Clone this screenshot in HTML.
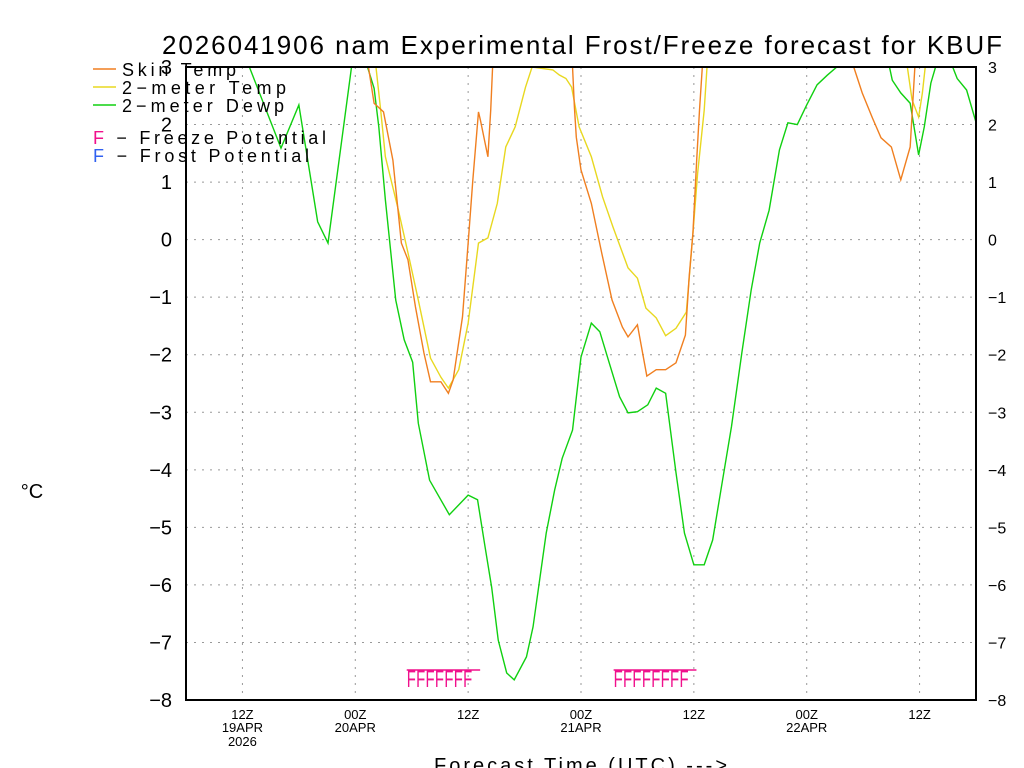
<!DOCTYPE html>
<html><head><meta charset="utf-8"><style>
body{margin:0;background:#fff;}
svg{display:block;font-family:"Liberation Sans",sans-serif;}
</style></head><body>
<svg id="chart" width="1024" height="768">
<defs><clipPath id="plotclip"><rect x="186" y="67" width="790" height="633"/></clipPath></defs>
<text x="162" y="54" font-size="26" textLength="840" lengthAdjust="spacing">2026041906 nam Experimental Frost/Freeze forecast for KBUF</text>
<g id="grid"></g>
<g id="axes"></g>
<g id="series" clip-path="url(#plotclip)"></g>
<g id="freeze"></g>
<rect x="186" y="67" width="790" height="633" fill="none" stroke="#000" stroke-width="2"/>
<g>
<line x1="93" y1="69" x2="116" y2="69" stroke="#f07f20" stroke-width="1.5"/>
<text x="122" y="76" font-size="18" textLength="114" lengthAdjust="spacing">Skin Temp</text>
<line x1="93" y1="87" x2="116" y2="87" stroke="#e8d820" stroke-width="1.5"/>
<text x="122" y="94" font-size="18" textLength="164" lengthAdjust="spacing">2−meter Temp</text>
<line x1="93" y1="105" x2="116" y2="105" stroke="#10d010" stroke-width="1.5"/>
<text x="122" y="112" font-size="18" textLength="162" lengthAdjust="spacing">2−meter Dewp</text>
<text x="93" y="144" font-size="18" textLength="233" lengthAdjust="spacing"><tspan fill="#f0108c">F</tspan> − Freeze Potential</text>
<text x="93" y="162" font-size="18" textLength="216" lengthAdjust="spacing"><tspan fill="#3060f0">F</tspan> − Frost Potential</text>
</g>
<text x="32" y="498" font-size="20" text-anchor="middle">°C</text>
<text x="434" y="772" font-size="20" textLength="293" lengthAdjust="spacing">Forecast Time (UTC) ---&gt;</text>
</svg>
<script>
const yTicks=[-8,-7,-6,-5,-4,-3,-2,-1,0,1,2,3];
const xTickHours=[6,18,30,42,54,66,78];
const xTickLabels=["12Z","00Z","12Z","00Z","12Z","00Z","12Z"];
const xTickDates=["19APR","20APR","","21APR","","22APR",""];
const xTickYears=["2026","","","","","",""];
const dewHours=[0,6.5,10.1,12,14,15.1,17.6,18.5,19.3,20,20.5,21.2,22.3,23.2,24.1,24.7,25.9,28,30,31,31.8,32.5,33.2,34.1,34.9,36.2,36.9,38.3,39.2,40,41.1,42,43.1,44,45,46.1,47,48,49.1,50,51,52.1,53,54,55.1,56,57,58,59.1,60.1,61,62,63.1,64,65,66,67.1,68.2,69.2,72,74.8,75.1,76,77,77.9,78.5,79.2,79.7,81.4,82,83,84];
const dewVals=[3.5,3.1,1.59,2.34,0.31,-0.06,3.0,3.3,3.0,2.63,1.96,0.69,-1.05,-1.74,-2.13,-3.19,-4.18,-4.78,-4.44,-4.52,-5.34,-6.04,-6.96,-7.53,-7.65,-7.25,-6.73,-5.1,-4.35,-3.8,-3.31,-2.04,-1.45,-1.6,-2.14,-2.73,-3.01,-2.99,-2.87,-2.58,-2.67,-4.05,-5.1,-5.65,-5.65,-5.22,-4.23,-3.25,-1.97,-0.87,-0.06,0.51,1.56,2.03,2.0,2.34,2.69,2.86,3.0,3.3,3.0,2.77,2.55,2.37,1.47,1.96,2.72,3.0,3.05,2.8,2.6,2.04];
const skinHours=[0,19.4,20,21,22,22.9,23.6,24.4,25.3,26,27.1,27.9,28.4,29.4,30,30.5,31.1,31.3,32.1,32.4,32.6,37,41.1,41.3,41.5,42,43.1,44.2,45.3,46.4,47,48,49,50,51,52.1,53.1,53.5,53.9,54.3,54.6,54.9,63,71,71.9,73,73.9,75,76,77,77.5,84];
const skinVals=[5,3.0,2.37,2.22,1.38,-0.06,-0.35,-1.17,-1.97,-2.47,-2.47,-2.67,-2.44,-1.34,-0.06,1.04,2.22,2.08,1.44,2.25,3.0,6,3.0,2.3,1.78,1.21,0.63,-0.23,-1.05,-1.52,-1.69,-1.48,-2.37,-2.26,-2.26,-2.14,-1.66,-0.65,0.11,1.38,2.25,3.0,8,3.0,2.55,2.11,1.77,1.61,1.04,1.61,3.0,6];
const tempHours=[0,20.2,20.7,21.2,22.5,23.7,24.7,26,27.1,27.9,29,30,31.1,32.1,33.1,34,35,36.1,36.8,39,39.7,40.4,41,41.8,43.1,44.3,45.4,46.3,47,48,48.9,50,51,52.1,53.2,53.6,53.9,54.4,55.1,55.4,66,76.7,77.2,77.9,78.3,78.6,84];
const tempVals=[5,3.0,2.25,1.44,0.57,-0.3,-1.05,-2.06,-2.39,-2.58,-2.26,-1.45,-0.06,0.03,0.63,1.61,1.96,2.65,3.0,2.95,2.86,2.8,2.65,1.96,1.44,0.74,0.22,-0.18,-0.49,-0.67,-1.19,-1.36,-1.67,-1.54,-1.26,-0.48,0.11,1.15,2.25,3.0,7,3.0,2.43,2.13,2.55,3.0,6];
const freezeHours=[24,25,26,27,28,29,30,46,47,48,49,50,51,52,53];
const freezeValue=-7.6;

const NS="http://www.w3.org/2000/svg";
const X0=186,X1=976,Y0=67,Y1=700,HMAX=84,VMIN=-8,VMAX=3;
const xs=h=>X0+h*(X1-X0)/HMAX;
const ys=v=>Y1-(v-VMIN)*(Y1-Y0)/(VMAX-VMIN);
function mk(tag,attrs,parent){const e=document.createElementNS(NS,tag);for(const k in attrs)e.setAttribute(k,attrs[k]);parent.appendChild(e);return e;}
const grid=document.getElementById('grid'),axes=document.getElementById('axes');
yTicks.forEach(v=>{
  const g=mk('line',{x1:X0,x2:X1,y1:ys(v),y2:ys(v),stroke:'#999','stroke-dasharray':'2,6','stroke-width':1},grid);
  
  
  const l=mk('text',{x:172,y:ys(v)+7,'font-size':20,'text-anchor':'end'},axes);
  l.textContent=(v<0?'−'+(-v):String(v));
  
  
  const r=mk('text',{x:988,y:ys(v)+6,'font-size':16},axes);
  r.textContent=(v<0?'−'+(-v):String(v));
  
  
});
xTickHours.forEach((h,i)=>{
  const g=mk('line',{x1:xs(h),x2:xs(h),y1:Y0,y2:Y1,stroke:'#999','stroke-dasharray':'2,6','stroke-width':1},grid);
  
  
  const t=mk('text',{x:xs(h),y:719,'font-size':13,'text-anchor':'middle'},axes);
  t.textContent=xTickLabels[i];
  
  
  if(xTickDates[i]){const d=mk('text',{x:xs(h),y:732,'font-size':13,'text-anchor':'middle'},axes);d.textContent=xTickDates[i];
  
  }
  if(xTickYears[i]){const d=mk('text',{x:xs(h),y:746,'font-size':13,'text-anchor':'middle'},axes);d.textContent=xTickYears[i];
  
  }
});
const ser=document.getElementById('series');
function line(hs,vs,color,name){
  const p=mk('polyline',{points:hs.map((h,i)=>xs(h)+','+ys(vs[i])).join(' '),fill:'none',stroke:color,'stroke-width':1.4},ser);
  
  
}
line(dewHours,dewVals,'#10d010','dewpoint-line');
line(tempHours,tempVals,'#e8d820','temp-2m-line');
line(skinHours,skinVals,'#f07f20','skin-temp-line');
const fz=document.getElementById('freeze');
let groupStart=0;
freezeHours.forEach((h,i)=>{
  const cx=xs(h)-5, by=ys(freezeValue)+10;
  const t=mk('text',{x:0,y:0,'font-size':24,fill:'#f0108c',transform:'translate('+cx+','+by+') scale(0.62,1)'},fz);
  t.textContent='F';
  
  
  const last=(i===freezeHours.length-1)||freezeHours[i+1]!==h+1;
  if(last){
    const b=mk('line',{x1:xs(freezeHours[groupStart])-5,x2:xs(h)+12,y1:ys(freezeValue)-7,y2:ys(freezeValue)-7,stroke:'#f0108c','stroke-width':1.5},fz);
    
    
    groupStart=i+1;
  }
});
</script>
</body></html>
